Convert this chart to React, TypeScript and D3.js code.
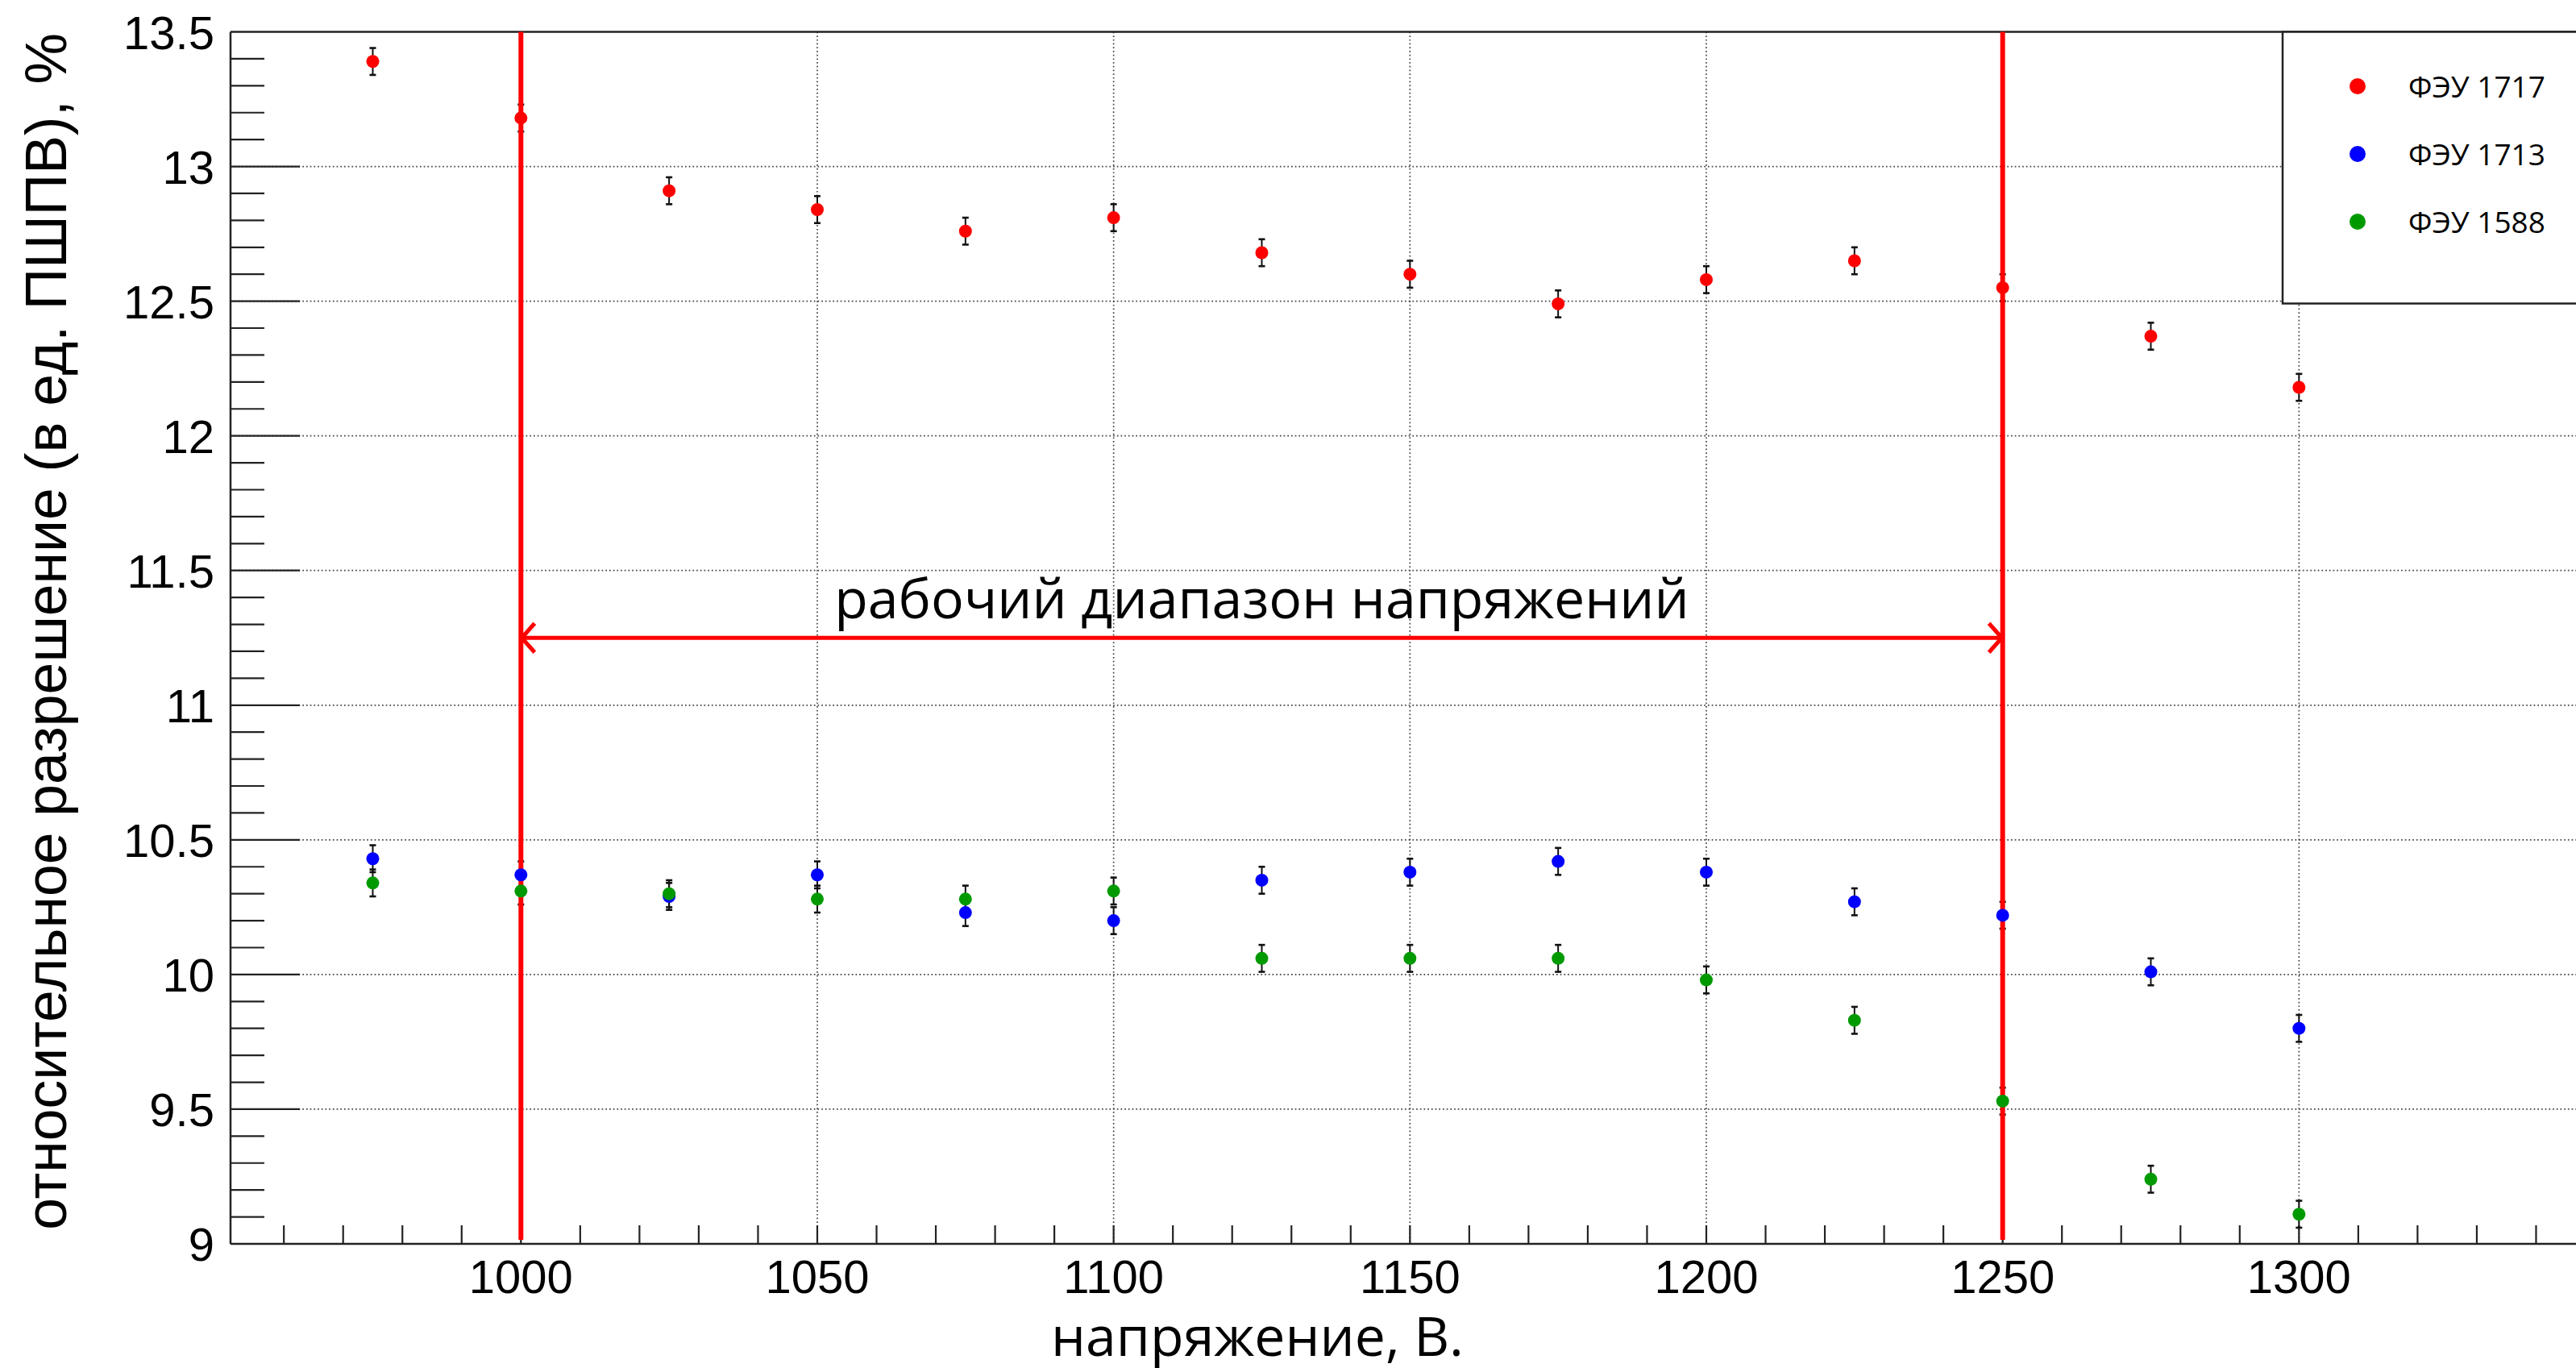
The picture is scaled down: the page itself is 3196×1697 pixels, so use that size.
import React from 'react';
import * as d3 from 'd3';

// Measurements: PMT relative resolution vs supply voltage
const voltages = [975, 1000, 1025, 1050, 1075, 1100, 1125, 1150, 1175, 1200, 1225, 1250, 1275, 1300];
const pmt1717 = [13.39, 13.18, 12.91, 12.84, 12.76, 12.81, 12.68, 12.6, 12.49, 12.58, 12.65, 12.55, 12.37, 12.18];
const pmt1713 = [10.43, 10.37, 10.29, 10.37, 10.23, 10.2, 10.35, 10.38, 10.42, 10.38, 10.27, 10.22, 10.01, 9.8];
const pmt1588 = [10.34, 10.31, 10.3, 10.28, 10.28, 10.31, 10.06, 10.06, 10.06, 9.98, 9.83, 9.53, 9.24, 9.11];
const err1717 = [0.05, 0.05, 0.05, 0.05, 0.05, 0.05, 0.05, 0.05, 0.05, 0.05, 0.05, 0.05, 0.05, 0.05];
const err1713 = [0.05, 0.05, 0.05, 0.05, 0.05, 0.05, 0.05, 0.05, 0.05, 0.05, 0.05, 0.05, 0.05, 0.05];
const err1588 = [0.05, 0.05, 0.05, 0.05, 0.05, 0.05, 0.05, 0.05, 0.05, 0.05, 0.05, 0.05, 0.05, 0.05];
const seriesNames = ['ФЭУ 1717', 'ФЭУ 1713', 'ФЭУ 1588'];
const seriesColors = ['#ff0000', '#0000ff', '#009a00'];

// Working range markers
const rangeBounds = [1000, 1250];
const rangeArrowLevel = 11.25;
const rangeLabel = 'рабочий диапазон напряжений';

const xTickLabels = [1000, 1050, 1100, 1150, 1200, 1250, 1300];
const yTickLabels = [9, 9.5, 10, 10.5, 11, 11.5, 12, 12.5, 13, 13.5];

const W = 3196;
const H = 1697;
const helv = '"Liberation Sans", Arial, sans-serif';
const open = '"Open Sans", "Noto Sans", sans-serif';

export default function App() {
  const x = d3.scaleLinear().domain([951, 1350]).range([286, 3220]);
  const y = d3.scaleLinear().domain([9, 13.5]).range([1543, 39.5]);

  const series = [
    { values: pmt1717, errs: err1717 },
    { values: pmt1713, errs: err1713 },
    { values: pmt1588, errs: err1588 },
  ];

  const xMinor = d3.range(960, 1350, 10);
  const yMinor = d3.range(90, 135, 1).map(v => v / 10).filter(v => Math.round(v * 10) % 5 !== 0);

  const [x0, x1] = [x(rangeBounds[0]), x(rangeBounds[1])];
  const ay = y(rangeArrowLevel);

  return (
    <svg width={W} height={H} style={{ position: 'absolute', left: 0, top: 0, background: '#fff' }}>
      {/* grid */}
      <g stroke="#444" strokeWidth={1.7} strokeDasharray="1.7,3">
        {yTickLabels.slice(1, -1).map(v => (
          <line key={'gy' + v} x1={x.range()[0]} x2={W} y1={y(v)} y2={y(v)} />
        ))}
        {xTickLabels.map(v => (
          <line key={'gx' + v} x1={x(v)} x2={x(v)} y1={y(13.5)} y2={y(9)} />
        ))}
      </g>

      {/* frame */}
      <g stroke="#222" strokeWidth={2.5} fill="none">
        <line x1={286} x2={W} y1={y(13.5)} y2={y(13.5)} />
        <line x1={286} x2={W} y1={y(9)} y2={y(9)} />
        <line x1={286} x2={286} y1={y(13.5)} y2={y(9)} />
      </g>

      {/* ticks */}
      <g stroke="#222" strokeWidth={2.2}>
        {yTickLabels.slice(1, -1).map(v => (
          <line key={'yt' + v} x1={286} x2={286 + 86} y1={y(v)} y2={y(v)} />
        ))}
        {yMinor.map(v => (
          <line key={'ym' + v} x1={286} x2={286 + 42} y1={y(v)} y2={y(v)} />
        ))}
        {xMinor.map(v => (
          <line key={'xm' + v} x1={x(v)} x2={x(v)} y1={y(9)} y2={y(9) - 23} />
        ))}
      </g>

      {/* tick labels */}
      <g fontFamily={helv} fontSize={58} fill="#000">
        {yTickLabels.map(v => (
          <text key={'yl' + v} x={266} y={y(v) + 21} textAnchor="end">{v}</text>
        ))}
        {xTickLabels.map(v => (
          <text key={'xl' + v} x={x(v)} y={1604} textAnchor="middle">{v}</text>
        ))}
      </g>

      {/* axis titles */}
      <text
        transform={`translate(82, 41) rotate(-90)`}
        textAnchor="end"
        fontFamily={helv}
        fontSize={71.5}
        fill="#000"
      >
        относительное разрешение (в ед. ПШПВ), %
      </text>
      <text x={1560} y={1682} textAnchor="middle" fontFamily={open} fontSize={68} fill="#000">
        напряжение, В.
      </text>

      {/* error bars */}
      <g stroke="#111" strokeWidth={2}>
        {series.map((s, si) =>
          voltages.map((v, i) => {
            const cx = x(v);
            const top = y(s.values[i] + s.errs[i]);
            const bot = y(s.values[i] - s.errs[i]);
            return (
              <g key={`e${si}-${i}`}>
                <line x1={cx} x2={cx} y1={top} y2={bot} />
                <line x1={cx - 4} x2={cx + 4} y1={top} y2={top} strokeWidth={2.6} />
                <line x1={cx - 4} x2={cx + 4} y1={bot} y2={bot} strokeWidth={2.6} />
              </g>
            );
          })
        )}
      </g>

      {/* working range lines and arrow */}
      <g stroke="#ff0000" fill="none" strokeWidth={6}>
        {rangeBounds.map(b => (
          <line key={'rb' + b} x1={x(b)} x2={x(b)} y1={y(13.5)} y2={y(9) - 5} />
        ))}
        <line x1={x0} x2={x1} y1={ay} y2={ay} strokeWidth={5} />
        <polyline points={`${x0 + 17},${ay - 18} ${x0 + 1},${ay} ${x0 + 17},${ay + 18}`} strokeWidth={5} />
        <polyline points={`${x1 - 17},${ay - 18} ${x1 - 1},${ay} ${x1 - 17},${ay + 18}`} strokeWidth={5} />
      </g>
      <text x={(x0 + x1) / 2} y={767} textAnchor="middle" fontFamily={open} fontSize={68} fill="#000">
        {rangeLabel}
      </text>

      {/* markers */}
      {series.map((s, si) => (
        <g key={'m' + si} fill={seriesColors[si]}>
          {voltages.map((v, i) => (
            <circle key={i} cx={x(v)} cy={y(s.values[i])} r={8} />
          ))}
        </g>
      ))}

      {/* legend */}
      <rect x={2832} y={39.5} width={500} height={337} fill="#fff" stroke="#222" strokeWidth={2.5} />
      {seriesNames.map((name, i) => (
        <g key={name}>
          <circle cx={2925} cy={107 + i * 84} r={10} fill={seriesColors[i]} />
          <text x={2988} y={107 + i * 84 + 14} fontFamily={open} fontSize={37} fill="#000">
            {name}
          </text>
        </g>
      ))}
    </svg>
  );
}
